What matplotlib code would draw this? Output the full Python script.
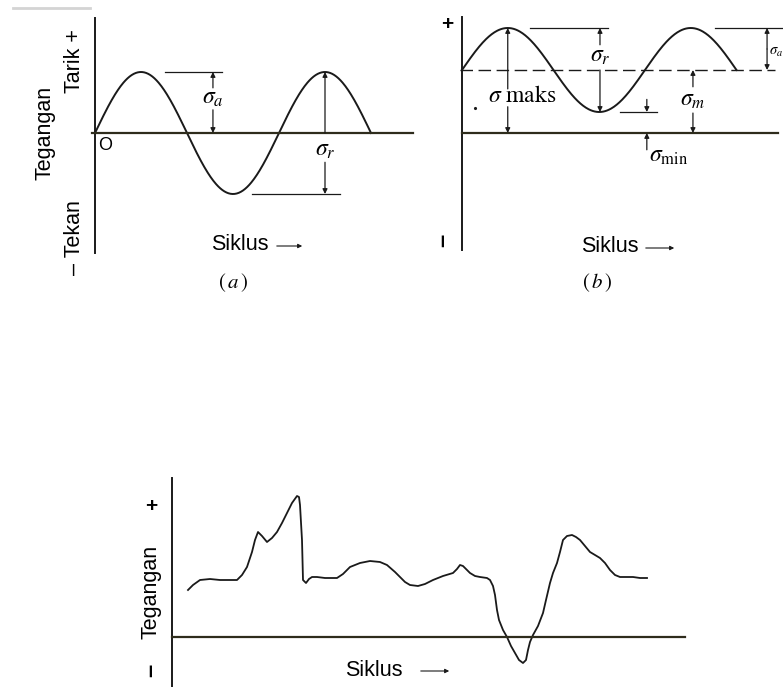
import numpy as np
import matplotlib
matplotlib.use('Agg')
import matplotlib.pyplot as plt

plt.rcParams['font.family'] = ['Liberation Sans', 'DejaVu Sans']
plt.rcParams['mathtext.fontset'] = 'stix'

# ---------------- data ----------------
# panel (a): fully reversed cycle
a_sigma_m = 0.0
a_sigma_a = 1.0
a_cycles = 1.5
# panel (b): repeated (fluctuating) cycle
b_sigma_m = 3.0
b_sigma_a = 2.0
b_cycles = 1.5
# panel (c): random cycle
c_x = [1.6, 2.1, 2.8, 3.8, 4.8, 5.8, 6.5, 7.0, 7.5, 8.0, 8.3, 8.6, 9.0, 9.5, 10.0,
       10.5, 11.0, 11.5, 12.0, 12.5, 12.7, 12.8, 13.0, 13.1, 13.4, 13.7, 14.0, 14.5,
       15.3, 16.5, 17.1, 17.8, 18.8, 19.8, 20.8, 21.5, 22.3, 22.8, 23.3, 23.8, 24.6,
       25.3, 26.1, 27.1, 28.1, 28.5, 28.8, 29.1, 29.5, 29.8, 30.3, 30.8, 31.5, 31.8,
       32.1, 32.3, 32.5, 32.7, 33.1, 33.5, 33.9, 34.3, 34.7, 35.1, 35.4, 35.6, 35.8,
       36.1, 36.6, 37.1, 37.4, 37.8, 38.1, 38.5, 38.8, 39.1, 39.5, 40.0, 40.4, 40.8,
       41.3, 41.8, 42.3, 42.8, 43.3, 43.8, 44.3, 44.8, 45.5, 46.1, 46.8, 47.5]
c_y = [4.7, 5.2, 5.7, 5.8, 5.7, 5.7, 5.7, 6.2, 7.0, 8.5, 9.7, 10.5, 10.1, 9.5, 9.9,
       10.5, 11.4, 12.4, 13.4, 14.1, 14.0, 13.2, 9.7, 5.7, 5.4, 5.8, 6.0, 6.0,
       5.9, 5.9, 6.3, 7.0, 7.4, 7.6, 7.5, 7.2, 6.5, 6.0, 5.5, 5.2, 5.1,
       5.3, 5.7, 6.1, 6.4, 6.8, 7.2, 7.1, 6.7, 6.4, 6.1, 6.0, 5.9, 5.7,
       5.1, 4.2, 2.7, 1.7, 0.7, 0.0, -0.9, -1.6, -2.3, -2.6, -2.3, -1.3, -0.5,
       0.2, 1.1, 2.4, 3.7, 5.4, 6.4, 7.4, 8.5, 9.7, 10.1, 10.2, 10.0, 9.7,
       9.1, 8.5, 8.2, 7.9, 7.4, 6.7, 6.2, 6.0, 6.0, 6.0, 5.9, 5.9]

W, H = 783, 687
fig = plt.figure(figsize=(W / 100, H / 100), dpi=100)

INK = '#1a1a1a'
BASE = '#2e2c1c'


def panel(rect, ox, oy, ux, uy):
    px0, py0, px1, py1 = rect
    ax = fig.add_axes([px0 / W, 1 - py1 / H, (px1 - px0) / W, (py1 - py0) / H])
    ax.set_xlim((px0 - ox) / ux, (px1 - ox) / ux)
    ax.set_ylim((oy - py1) / uy, (oy - py0) / uy)
    ax.axis('off')
    ax.patch.set_alpha(0)
    return ax


def arrow(ax, x0, y0, x1, y1, style='-|>'):
    ax.annotate('', xy=(x1, y1), xytext=(x0, y0),
                arrowprops=dict(arrowstyle=style, lw=0.9, color=INK,
                                mutation_scale=7, shrinkA=0, shrinkB=0))


def ftext(px, py, s, **kw):
    fig.text(px / W, 1 - py / H, s, **kw)


def farrow(px0, px1, py):
    fig.add_artist(matplotlib.patches.FancyArrowPatch(
        (px0 / W, 1 - py / H), (px1 / W, 1 - py / H), transform=fig.transFigure,
        arrowstyle='-|>', mutation_scale=6, lw=0.8, color=INK))


SIG = 17
LAB = 15.5

# top faint scan line
fig.add_artist(plt.Line2D([13 / W, 90 / W], [1 - 8 / H, 1 - 8 / H], color='#d4d4d4', lw=2))

# ---------------- panel (a) ----------------
ax = panel((0, 0, 420, 300), 95, 133, 184, 61)
t = np.linspace(0, a_cycles, 400)
ax.plot(t, a_sigma_m + a_sigma_a * np.sin(2 * np.pi * t), color=INK, lw=1.4)
ax.plot([0, 0], [(133 - 18) / 61, (133 - 253) / 61], color=INK, lw=1.4)
ax.plot([-3 / 184, (413 - 95) / 184], [0, 0], color=BASE, lw=1.6)
# sigma_a
ax.plot([0.38, 0.69], [a_sigma_a, a_sigma_a], color=INK, lw=0.9)
arrow(ax, 0.641, 0.74, 0.641, a_sigma_a)
arrow(ax, 0.641, 0.38, 0.641, 0.0)
ax.text(0.641, 0.57, r'$\sigma_a$', fontsize=SIG, ha='center', va='center')
# sigma_r
arrow(ax, 1.25, 0.0, 1.25, a_sigma_a)
ax.text(1.25, -0.28, r'$\sigma_r$', fontsize=SIG, ha='center', va='center')
arrow(ax, 1.25, -0.48, 1.25, -a_sigma_a)
ax.plot([0.853, 1.33], [-a_sigma_a, -a_sigma_a], color=INK, lw=0.9)
ax.text(0.055, -0.2, 'O', fontsize=13, ha='center', va='center')

ftext(45, 133, 'Tegangan', rotation=90, fontsize=LAB, ha='center', va='center')
ftext(75, 61, 'Tarik +', rotation=90, fontsize=LAB, ha='center', va='center')
ftext(75, 238, '\u2013 Tekan', rotation=90, fontsize=LAB, ha='center', va='center')
ftext(211, 245, 'Siklus', fontsize=LAB, ha='left', va='center')
farrow(274, 305, 246)
ftext(233, 283, r'$(\,a\,)$', fontsize=15, ha='center', va='center')

# ---------------- panel (b) ----------------
bx = panel((400, 0, 783, 300), 462, 133, 183, 21)
t = np.linspace(0, b_cycles, 400)
bx.plot(t, b_sigma_m + b_sigma_a * np.sin(2 * np.pi * t), color=INK, lw=1.4)
bx.plot([0, 0], [(133 - 17) / 21, (133 - 250) / 21], color=INK, lw=1.4)
bx.plot([0, (778 - 462) / 183], [0, 0], color=BASE, lw=1.6)
bx.plot([-0.01, (775 - 462) / 183], [b_sigma_m, b_sigma_m], color=INK, lw=1.0,
        dashes=(9, 4))
smax = b_sigma_m + b_sigma_a
smin = b_sigma_m - b_sigma_a
# sigma maks
arrow(bx, 0.25, 2.1, 0.25, smax)
arrow(bx, 0.25, 1.25, 0.25, 0.0)
bx.text(0.33, 1.75, r'$\sigma\ \mathrm{maks}$', fontsize=SIG, ha='center', va='center')
bx.plot([(475 - 462) / 183], [(133 - 108) / 21], marker='.', ms=2.5, color=INK)
# sigma r
bx.plot([0.37, 0.80], [smax, smax], color=INK, lw=0.9)
arrow(bx, 0.754, 4.2, 0.754, smax)
bx.text(0.754, 3.65, r'$\sigma_r$', fontsize=SIG, ha='center', va='center')
arrow(bx, 0.754, b_sigma_m, 0.754, smin)
# sigma min
bx.plot([0.863, 1.066], [smin, smin], color=INK, lw=0.9)
arrow(bx, 1.01, 1.6, 1.01, smin)
arrow(bx, 1.01, -0.8, 1.01, 0.0)
bx.text(1.02, -1.1, r'$\sigma_{\mathrm{min}}$', fontsize=SIG, ha='left', va='center')
# sigma m
arrow(bx, 1.262, 2.2, 1.262, b_sigma_m)
bx.text(1.262, 1.57, r'$\sigma_m$', fontsize=SIG, ha='center', va='center')
arrow(bx, 1.262, 0.95, 1.262, 0.0)
# sigma a (at the right edge)
bx.plot([1.383, 1.76], [smax, smax], color=INK, lw=0.9)
arrow(bx, 1.667, 4.0, 1.667, smax)
arrow(bx, 1.667, 4.0, 1.667, b_sigma_m)
bx.text(1.676, 3.85, r'$\sigma_a$', fontsize=10.5, ha='left', va='center')

ftext(447, 24, '+', fontsize=15, ha='center', va='center', fontweight='bold')
ftext(443, 240, '\u2013', rotation=90, fontsize=17, ha='center', va='center', fontweight='bold')
ftext(581, 247, 'Siklus', fontsize=LAB, ha='left', va='center')
farrow(643, 677, 248)
ftext(597, 283, r'$(\,b\,)$', fontsize=15, ha='center', va='center')

# ---------------- panel (c) ----------------
cx = panel((130, 470, 700, 687), 172, 637, 10, 10)
cx.plot(c_x, c_y, color=INK, lw=1.3)
cx.plot([0, 0], [(637 - 478) / 10, (637 - 690) / 10], color=INK, lw=1.4)
cx.plot([0, (685 - 172) / 10], [0, 0], color=BASE, lw=1.6)

ftext(151, 507, '+', fontsize=15, ha='center', va='center', fontweight='bold')
ftext(151, 592, 'Tegangan', rotation=90, fontsize=LAB, ha='center', va='center')
ftext(151, 670, '\u2013', rotation=90, fontsize=17, ha='center', va='center', fontweight='bold')
ftext(345, 670, 'Siklus', fontsize=LAB, ha='left', va='center')
farrow(418, 452, 671)

fig.savefig('out.png', dpi=100, facecolor='white')
